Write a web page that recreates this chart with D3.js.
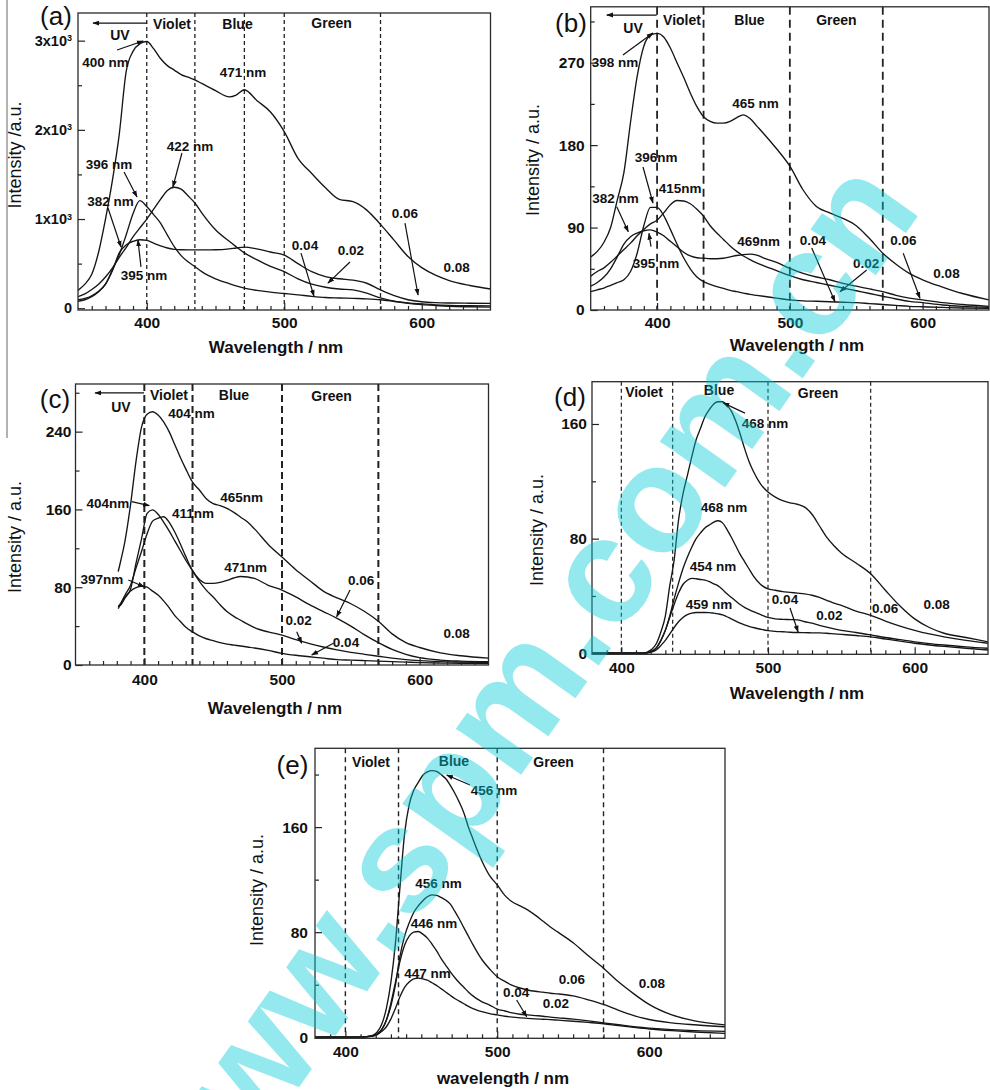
<!DOCTYPE html>
<html><head><meta charset="utf-8">
<script src="https://cdn.jsdelivr.net/npm/d3@7"></script>
<style>
body{margin:0;background:#fff}
svg{display:block}
text{font-family:"Liberation Sans",Arial,Helvetica,sans-serif;fill:#111}
</style></head>
<body><svg id="chart" width="990" height="1090"></svg>
<script>
// ===================== DATA =====================
const xTickValues = [400, 500, 600];

// ---- panel (a) ----
const aWavelength = [350,355,360,365,370,375,380,385,390,395,400,405,410,415,420,425,430,435,440,450,460,465,471,480,490,500,510,520,530,540,550,560,570,580,590,600,610,620,635,650];
const a008 = [200,270,380,630,1000,1430,1950,2650,2880,2965,2990,2910,2800,2720,2670,2620,2590,2560,2520,2440,2370,2390,2450,2330,2200,1980,1680,1510,1350,1220,1195,1100,940,760,580,455,370,310,255,215];
const a004 = [95,110,140,190,270,430,600,820,1060,1207,1140,1050,955,820,690,590,520,467,410,330,275,250,225,200,180,165,150,133,120,115,110,105,95,75,55,40,30,22,16,12];
const a002 = [130,160,210,270,350,450,570,680,800,900,1000,1110,1220,1320,1356,1335,1260,1180,1070,880,750,690,620,545,470,410,330,270,235,215,205,170,115,80,60,48,38,32,28,26];
const a006 = [78,95,130,185,270,420,620,710,750,768,760,730,700,675,660,655,654,654,654,655,665,675,685,665,630,595,500,410,355,330,315,280,205,140,95,72,62,58,56,55];
const aYTicks = [0,1000,2000,3000];
const aYTickText = ["0","1x10","2x10","3x10"];
const aYTickSup = ["","3","3","3"];
const aYMinor = [500,1500,2500];
const aBounds = [400,435,471,500,570];
const aRegions = [{t:"Violet",at:[418.4,3185]},{t:"Blue",at:[466,3185]},{t:"Green",at:[534.4,3197]},{t:"UV",at:[380.5,3063]}];
const aUV = {from:[400.2,3197],to:[360.9,3197]};
const aNotes = [
 {t:"400 nm",at:[370,2760]},{t:"471 nm",at:[470,2648]},{t:"422 nm",at:[431.5,1819]},
 {t:"396 nm",at:[372.5,1617]},{t:"382 nm",at:[373.6,1202]},{t:"395 nm",at:[398,373]},
 {t:"0.04",at:[515.1,708]},{t:"0.02",at:[548.5,652]},{t:"0.06",at:[587.8,1067]},{t:"0.08",at:[625.3,462]}];
const aArrows = [
 {from:[378.4,2895],to:[397.3,2996]},{from:[425.6,1740],to:[419,1359]},
 {from:[383.5,1527],to:[392.9,1247]},{from:[371.8,1123],to:[381.3,686]},
 {from:[395.8,463],to:[393.6,765]},{from:[512.2,618],to:[521.6,135]},
 {from:[547.8,518],to:[531.8,282]},{from:[587.8,955],to:[597.3,148]}];

// ---- panel (b) ----
const bWavelength = [350,355,360,365,370,375,380,385,390,395,400,405,410,415,420,425,430,435,440,445,450,455,460,465,470,475,480,490,500,510,520,530,540,550,560,570,580,590,600,615,630,650];
const b008 = [58,64,74,90,120,150,205,255,288,300,302,298,286,270,254,237,222,211,206,204,204,206,210,213,209,201,193,176,157,131,113,106,100,92,78,62,50,40,33,25,18,11];
const b004 = [20,22,24,27,30,33,42,62,92,112,112,103,88,72,57,45,36,31,28,25.5,23.5,21.5,20,18.5,17,16,15,13,11,10,9.5,9,8.5,8,7,6,5,4,3.5,2.8,2.2,1.8];
const b002 = [37,42,46,52,59,66,73,81,88,94,98,106,115,119.5,119,116,110,102.5,92,84,77,70,64,59,55,51.5,48.5,43,37.5,33,30,27,24,21,18,15,12,9.5,8,5.5,4,3];
const b006 = [26,30,36,45,58,72,80,84,86.5,87.4,85,81,75,69,63,59,57,56.5,56,56,56.5,58,59.5,60.5,61,60,57,52,45.5,40,36,33,29,26,23,20,16,13,11,8,6,4];
const bYTicks = [0,90,180,270];
const bYMinor = [45,135,225,315];
const bBounds = [400,435,500,570];
const bRegions = [{t:"Violet",at:[418.8,316.6]},{t:"Blue",at:[469.6,316.6]},{t:"Green",at:[535.1,316.6]},{t:"UV",at:[381.9,307.9]}];
const bUV = {from:[399.7,322],to:[362.1,322]};
const bNotes = [
 {t:"398 nm",at:[368.3,270.8]},{t:"465 nm",at:[474.1,226]},{t:"396nm",at:[399.2,167]},
 {t:"415nm",at:[417.3,133.2]},{t:"382 nm",at:[368.7,122.3]},{t:"395 nm",at:[399.2,51.3]},
 {t:"469nm",at:[476.4,74.6]},{t:"0.04",at:[517.4,76.4]},{t:"0.02",at:[557.4,51.3]},
 {t:"0.06",at:[585.6,75.7]},{t:"0.08",at:[618,40.4]}];
const bArrows = [
 {from:[374.3,278.4],to:[396.9,302.4]},{from:[389.4,156.1],to:[396.9,116.8]},
 {from:[369.6,112.8],to:[378.3,85.5]},{from:[395.4,69.1],to:[393.9,83.7]},
 {from:[516.5,67.7],to:[534,9.1]},{from:[557.9,43.7],to:[537.8,20]},
 {from:[585.4,61.9],to:[598,12.8]}];

// ---- panel (c) ----
const cWavelength = [381,383,386,390,394,398,402,406,410,414,418,422,426,430,435,440,445,450,455,460,465,470,475,480,490,500,510,520,530,540,550,560,570,580,590,600,615,630,650];
const c008 = [96,108,128,165,210,245,258,260.5,257,250,240,227,214,202,188,180,171,166,164,161,157,152,147,140,124,111,98,87,76,69,63,55,45,32,23,18,12.5,9.5,7];
const c002 = [60,62,69,78,105,130,156,159.5,155,147,138,128,118,108,97,86,77,70,62,55,50,46,42,38.5,34,30.8,26,22,18.5,15.5,13,11,9,7,5.5,4.5,3.5,3,2.5];
const c006 = [60,64,72,82,100,117,135,148,151,152.5,147,137,125,112,97,88,84,84,85,87,89.5,91,90.5,89,82,77,70,62,55,48,40,31,23,16,11,7.5,5,4,3.4];
const c004 = [58,63,70,76,79.5,81,80,76,72,66,59,51,45,39,34,30,27,25,23,21.5,20.5,19.5,18.5,17.5,15,12,10,8.5,7,5.5,5,4.5,4,3.5,3,2.5,2,1.8,1.5];
const cYTicks = [0,80,160,240];
const cYMinor = [40,120,200,280];
const cBounds = [400,435,500,570];
const cRegions = [{t:"Violet",at:[417.9,277.8]},{t:"Blue",at:[465.1,277.8]},{t:"Green",at:[536,276.7]},{t:"UV",at:[383,265.4]}];
const cUV = {from:[399.8,279.8],to:[364.2,279.8]};
const cNotes = [
 {t:"404 nm",at:[434.3,259.2]},{t:"465nm",at:[470.6,172.8]},{t:"404nm",at:[373.6,166.6]},
 {t:"411nm",at:[435.3,156.4]},{t:"471nm",at:[473.5,100.8]},{t:"397nm",at:[369.2,88.5]},
 {t:"0.06",at:[557.4,87.4]},{t:"0.02",at:[512,46.3]},{t:"0.04",at:[546.5,23.7]},{t:"0.08",at:[626.8,32.9]}];
const cArrows = [
 {from:[390.8,168],to:[403.6,163.9]},{from:[388.4,87.4],to:[399.8,80.5]},
 {from:[549.4,77.2],to:[539.7,49.7]},{from:[510.7,34.3],to:[514.3,22.3]},
 {from:[537.3,22.3],to:[521.6,10.3]}];

// ---- panel (d) ----
const dWavelength = [380,400,410,415,418,421,424,427,430,433,436,439,442,445,448,451,454,457,460,463,466,469,472,475,478,481,484,487,490,495,500,505,510,515,520,525,530,535,540,545,550,560,570,580,590,600,610,620,635,650];
const d008 = [0,0,0,0,1,3,7,15,26,47,65,93,111,124,137,149,157,165,170,174,175.5,175.5,173,169,162,153,143,134,127,118,112.5,109,106.5,105,104,102,97,89,81,75,70,63,55.5,44,33,24,18,14,11,8];
const d006 = [0,0,0,0,0.5,1.5,4,9,16,26,38,49,59,67,74,80,84,87.5,89.5,91.5,92.5,91,86.5,81,75,69,64,59,54,48,45,44,43,42.5,42,41.5,40.5,39,37,35,33.5,29.5,26.5,22.5,19,16,13.5,11.5,9,7];
const d002 = [0,0,0,0,0.5,1.5,4,9,16,25,34,42,48,51,52.3,52,51.5,51,50,48.5,47,44.5,41.5,39,36.5,34,32,30.5,29,27,25,24,23.7,23.5,23.3,22,21,19.5,18.2,17,16,14.5,12.8,11,9.5,8,6.8,5.8,4.5,3.5];
const d004 = [0,0,0,0,0.3,1,2.5,5.5,9,13.5,18,22,25,27,28,28.5,28.5,28.5,28.4,28,27.5,26.8,25.5,24,22.5,21,19.8,18.8,18,16.8,15.8,15.3,15,14.7,14.5,14.4,14.3,14.2,14,13.6,13.2,12.4,11.5,10,8.5,7,5.8,4.8,3.5,2.3];
const dYTicks = [0,80,160];
const dYMinor = [40,120];
const dBounds = [400,435,500,570];
const dRegions = [{t:"Violet",at:[415.5,182.3]},{t:"Blue",at:[466.6,183.7]},{t:"Green",at:[534.1,181.6]}];
const dNotes = [
 {t:"468 nm",at:[498,160.7]},{t:"468 nm",at:[470,102.1]},{t:"454 nm",at:[462.5,60.9]},
 {t:"459 nm",at:[459.8,34.4]},{t:"0.04",at:[511.6,37.9]},{t:"0.02",at:[541.9,26.7]},
 {t:"0.06",at:[579.8,31.6]},{t:"0.08",at:[614.9,34.4]}];
const dArrows = [{from:[484.3,167.6],to:[469.3,174.7]},{from:[515,31.6],to:[520.5,14.9]}];

// ---- panel (e) ----
const eWavelength = [380,400,410,414,418,421,424,427,430,433,436,439,442,445,448,451,454,457,460,463,466,469,472,475,478,481,484,487,490,495,500,505,510,515,520,525,530,535,540,550,560,570,580,590,600,615,630,650];
const e008 = [0,0,0,0.5,1.5,4,10,22,42,72,115,155,177,188,194,199.5,202,203,202.5,200,197,192,186,179,171,160,151,142,134,123,116,108,103,100,97,93,88.5,84,80,72,62,52.5,42,33,25,17,12.5,9.4];
const e006 = [0,0,0,0.5,1,2.5,6,13,24,40,62,77,87,95,100,104,107,108.4,108,106.5,104.5,101.5,96,90,83.5,77,70.5,64.5,59,52,46,42.5,39.5,37.5,36,35,34.3,33.5,33,31.5,28.5,25,20.5,16.5,13.5,11,9.5,8];
const e002 = [0,0,0,0.5,1,2.5,6,13,26,42,58,70,77,80,80.5,78.5,75.5,71,66,60,55,50,45.5,41.5,38,34.5,31.5,29,27,24.5,21.5,20,18.5,17.5,17,16.5,16,15.3,14.8,13.8,12.5,11,9.5,8,7,5.8,5,4.5];
const e004 = [0,0,0,0.3,0.8,2,4.5,8,14,22,31,38,42,44.5,45,44.5,43.5,41.5,39.5,37,34.5,32,29.5,27.5,25.5,23.5,21.8,20.5,19.5,18,17,16,15.3,14.8,14.4,14,13.7,13.4,13,12.2,11.3,10.3,8.8,7.5,6.3,5,4,3];
const eYTicks = [0,80,160];
const eYMinor = [40,120,200];
const eBounds = [400,435,500,570];
const eRegions = [{t:"Violet",at:[416.9,209.6]},{t:"Blue",at:[471.5,210.3]},{t:"Green",at:[537.1,209.6]}];
const eNotes = [
 {t:"456 nm",at:[497.9,188.3]},{t:"456 nm",at:[461.3,117.4]},{t:"446 nm",at:[458.4,87]},
 {t:"447 nm",at:[454.1,48.9]},{t:"0.04",at:[512.4,34.5]},{t:"0.02",at:[538.7,26.1]},
 {t:"0.06",at:[549.2,44.3]},{t:"0.08",at:[601.9,41.2]}];
const eArrows = [{from:[482.1,192.1],to:[466.7,199.7]},{from:[512.8,28.4],to:[519.4,15.6]}];

const watermarkText = "www.spm.com.cn";

// ===================== LAYOUT =====================
const panels = [
 {key:"a", wl:aWavelength, series:[a008,a006,a004,a002], yTicks:aYTicks, yTickText:aYTickText, yTickSup:aYTickSup, yMinor:aYMinor,
  bounds:aBounds, regions:aRegions, uv:aUV, notes:aNotes, arrows:aArrows,
  xDomain:[350,650], yDomain:[-20,3310], frame:{l:78,r:490.5,t:13,b:310}, dash:"4,3", dashW:1.3,
  tag:"(a)", tagAt:[56,16], xTitle:"Wavelength / nm", xTitleAt:[276,347], yTitle:"Intensity /a.u.", yTitleAt:[15,155], xPad:7, yPad:6, yFont:14.5},
 {key:"b", wl:bWavelength, series:[b008,b006,b004,b002], yTicks:bYTicks, yMinor:bYMinor,
  bounds:bBounds, regions:bRegions, uv:bUV, notes:bNotes, arrows:bArrows,
  xDomain:[350,650], yDomain:[0,331], frame:{l:590.7,r:989,t:6.8,b:310}, dash:"8,5", dashW:1.8,
  tag:"(b)", tagAt:[571,22.5], xTitle:"Wavelength / nm", xTitleAt:[797,345], yTitle:"Intensity / a.u.", yTitleAt:[533,160], xPad:7, yPad:6},
 {key:"c", wl:cWavelength, series:[c008,c006,c004,c002], yTicks:cYTicks, yMinor:cYMinor,
  bounds:cBounds, regions:cRegions, uv:cUV, notes:cNotes, arrows:cArrows,
  xDomain:[350,650], yDomain:[0,289], frame:{l:75.5,r:488.5,t:384,b:665}, dash:"7,4", dashW:2,
  tag:"(c)", tagAt:[55,399], xTitle:"Wavelength / nm", xTitleAt:[275,708], yTitle:"Intensity / a.u.", yTitleAt:[15,537], xPad:9, yPad:4},
 {key:"d", wl:dWavelength, series:[d008,d006,d004,d002], yTicks:dYTicks, yMinor:dYMinor,
  bounds:dBounds, regions:dRegions, uv:null, notes:dNotes, arrows:dArrows,
  xDomain:[380,650], yDomain:[-0.7,189.5], frame:{l:592,r:988,t:381.7,b:654.3}, dash:"4,3", dashW:1.2,
  tag:"(d)", tagAt:[570,397], xTitle:"Wavelength / nm", xTitleAt:[797,693], yTitle:"Intensity / a.u.", yTitleAt:[537,530], xPad:8, yPad:5},
 {key:"e", wl:eWavelength, series:[e008,e006,e004,e002], yTicks:eYTicks, yMinor:eYMinor,
  bounds:eBounds, regions:eRegions, uv:null, notes:eNotes, arrows:eArrows,
  xDomain:[380,650], yDomain:[-0.8,220], frame:{l:315,r:725,t:748.3,b:1038.3}, dash:"5,4", dashW:1.4,
  tag:"(e)", tagAt:[292.5,765], xTitle:"wavelength / nm", xTitleAt:[503,1078], yTitle:"Intensity / a.u.", yTitleAt:[257,890], xPad:8, yPad:7}
];

// ===================== DRAW =====================
const svg = d3.select("#chart");
svg.append("rect").attr("width",990).attr("height",1090).attr("fill","#fff");
const defs = svg.append("defs");
defs.append("marker").attr("id","ah").attr("viewBox","0 0 10 10").attr("refX",9).attr("refY",5)
  .attr("markerWidth",7).attr("markerHeight",7).attr("markerUnits","userSpaceOnUse").attr("orient","auto")
  .append("path").attr("d","M0,1.5 L10,5 L0,8.5 z").attr("fill","#111");

// page edge line at left
svg.append("line").attr("x1",7).attr("x2",7).attr("y1",0).attr("y2",438).attr("stroke","#999").attr("stroke-width",1.5);

panels.forEach(p => {
  const f = p.frame;
  const x = d3.scaleLinear().domain(p.xDomain).range([f.l, f.r]);
  const y = d3.scaleLinear().domain(p.yDomain).range([f.b, f.t]);
  const g = svg.append("g").attr("class","panel-"+p.key);
  const clipId = "clip-"+p.key;
  defs.append("clipPath").attr("id",clipId).append("rect")
    .attr("x",f.l).attr("y",f.t).attr("width",f.r-f.l).attr("height",f.b-f.t);

  // boundaries
  g.selectAll("line.bound").data(p.bounds).join("line").attr("class","bound")
    .attr("x1",d=>x(d)).attr("x2",d=>x(d)).attr("y1",f.t).attr("y2",f.b)
    .attr("stroke","#222").attr("stroke-width",p.dashW).attr("stroke-dasharray",p.dash);

  // curves
  const line = d3.line().x(d=>x(d[0])).y(d=>y(d[1])).curve(d3.curveMonotoneX);
  const cg = g.append("g").attr("clip-path","url(#"+clipId+")");
  p.series.forEach(s => {
    cg.append("path").datum(p.wl.map((w,i)=>[w,s[i]])).attr("d",line)
      .attr("fill","none").attr("stroke","#161616").attr("stroke-width",1.35).attr("stroke-linejoin","round");
  });

  // axes
  const minorX = d3.range(Math.ceil(p.xDomain[0]/10)*10, p.xDomain[1], 10).filter(v=>v%100!==0 && v>p.xDomain[0]);
  const axB = g.append("g").attr("transform",`translate(0,${f.b})`)
    .call(d3.axisBottom(x).tickValues(xTickValues).tickSize(-7).tickPadding(p.xPad).tickFormat(d3.format("d")));
  axB.select(".domain").remove();
  axB.selectAll("text").attr("font-size",15.5).attr("font-weight","bold").attr("fill","#111");
  const axBm = g.append("g").attr("transform",`translate(0,${f.b})`)
    .call(d3.axisBottom(x).tickValues(minorX).tickSize(-4).tickFormat(""));
  axBm.select(".domain").remove();

  const axL = g.append("g").attr("transform",`translate(${f.l},0)`)
    .call(d3.axisLeft(y).tickValues(p.yTicks).tickSize(-7).tickPadding(p.yPad)
      .tickFormat((d,i)=> p.yTickText ? p.yTickText[i] : String(d)));
  axL.select(".domain").remove();
  axL.selectAll("text").attr("font-size",p.yFont||15.5).attr("font-weight","bold").attr("fill","#111");
  if (p.yTickSup) {
    axL.selectAll("text").each(function(d,i){
      if (p.yTickSup[i]) d3.select(this).append("tspan").attr("dy","-0.5em").attr("font-size","9px").text(p.yTickSup[i]);
    });
  }
  const axLm = g.append("g").attr("transform",`translate(${f.l},0)`)
    .call(d3.axisLeft(y).tickValues(p.yMinor).tickSize(-4).tickFormat(""));
  axLm.select(".domain").remove();
  g.selectAll(".tick line").attr("stroke","#222").attr("stroke-width",1.2);

  // frame
  g.append("rect").attr("x",f.l).attr("y",f.t).attr("width",f.r-f.l).attr("height",f.b-f.t)
    .attr("fill","none").attr("stroke","#2a2a2a").attr("stroke-width",1.3);

  // region labels
  g.selectAll("text.region").data(p.regions).join("text").attr("class","region")
    .attr("x",d=>x(d.at[0])).attr("y",d=>y(d.at[1])).attr("dy","0.35em")
    .attr("text-anchor","middle").attr("font-size",14).attr("font-weight","bold").text(d=>d.t);
  if (p.uv) {
    g.append("line").attr("x1",x(p.uv.from[0])).attr("y1",y(p.uv.from[1]))
      .attr("x2",x(p.uv.to[0])).attr("y2",y(p.uv.to[1]))
      .attr("stroke","#111").attr("stroke-width",1.3).attr("marker-end","url(#ah)");
  }
  // peak / doping labels
  g.selectAll("text.note").data(p.notes).join("text").attr("class","note")
    .attr("x",d=>x(d.at[0])).attr("y",d=>y(d.at[1])).attr("dy","0.35em")
    .attr("text-anchor","middle").attr("font-size",13.5).attr("font-weight","bold").text(d=>d.t);
  g.selectAll("line.arr").data(p.arrows).join("line").attr("class","arr")
    .attr("x1",d=>x(d.from[0])).attr("y1",d=>y(d.from[1]))
    .attr("x2",d=>x(d.to[0])).attr("y2",d=>y(d.to[1]))
    .attr("stroke","#111").attr("stroke-width",1.2).attr("marker-end","url(#ah)");

  // titles & tag
  g.append("text").attr("x",p.tagAt[0]).attr("y",p.tagAt[1]).attr("dy","0.35em").attr("text-anchor","middle")
    .attr("font-size",26).text(p.tag);
  g.append("text").attr("x",p.xTitleAt[0]).attr("y",p.xTitleAt[1]).attr("dy","0.35em").attr("text-anchor","middle")
    .attr("font-size",17).attr("font-weight","bold").text(p.xTitle);
  g.append("text").attr("transform",`translate(${p.yTitleAt[0]},${p.yTitleAt[1]}) rotate(-90)`)
    .attr("dy","0.35em").attr("text-anchor","middle").attr("font-size",18).text(p.yTitle);
});

// watermark
svg.append("text").attr("transform","translate(890,185) rotate(-54.6)")
  .attr("text-anchor","end").attr("dy","0.27em")
  .attr("font-size",151).attr("font-weight","bold")
  .style("fill","#00cbd6").style("fill-opacity",0.42).text(watermarkText);
</script>
</body></html>
